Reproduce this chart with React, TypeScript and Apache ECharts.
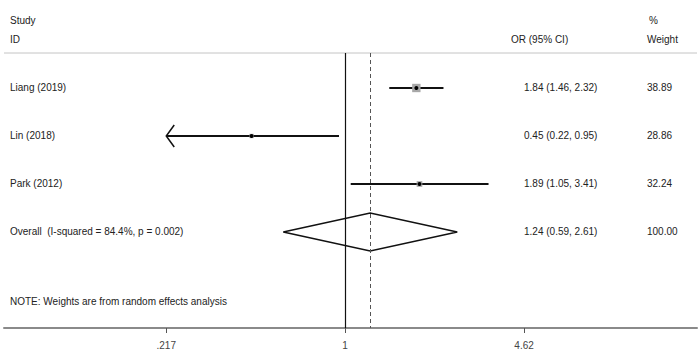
import React, { useEffect, useRef } from "react";
import * as echarts from "echarts";

// ---- data ----
const studies = ["Liang (2019)", "Lin (2018)", "Park (2012)"];
const orValues = [1.84, 0.45, 1.89];
const ciLower = [1.46, 0.216, 1.05];
const ciUpper = [2.32, 0.95, 3.41];
const weights = [38.89, 28.86, 32.24];

const overallLabel = "Overall  (I-squared = 84.4%, p = 0.002)";
const overallOR = [1.24];
const overallLower = [0.59];
const overallUpper = [2.61];
const overallWeight = [100.0];

const tickValues = [0.217, 1, 4.62];
const tickLabels = [".217", "1", "4.62"];

const noteText = "NOTE: Weights are from random effects analysis";

// ---- layout ----
const FONT = "10px 'Liberation Sans', Arial, sans-serif";
const TXT = "#222";
const X_MIN = -2.9145;
const X_MAX = 3.0085;
const Y_MIN = 0.271;
const Y_MAX = 6;
const COL_CI = 520;
const COL_W = 643;
const COL_LABEL = 6;

const fmt = (v: number) => v.toFixed(2);
const tickLn = tickValues.map((v) => Math.log(v));

function textEl(x: number, y: number, text: string, color = TXT) {
  return {
    type: "text",
    x,
    y,
    style: {
      text,
      font: FONT,
      fill: color,
      align: "left",
      verticalAlign: "middle",
      textAlign: "left",
      textVerticalAlign: "middle",
    },
  };
}

export default function App() {
  const ref = useRef<HTMLDivElement>(null);

  useEffect(() => {
    if (!ref.current) return;
    const chart = echarts.init(ref.current, undefined, { renderer: "svg" });

    const rows = studies.map((_, i) => i + 1);
    const overallRow = studies.length + 1;
    const lnMin = Math.log(tickValues[0]);

    const ciData = rows.map((r, i) => [
      Math.log(orValues[i]),
      Math.log(ciLower[i]),
      Math.log(ciUpper[i]),
      r,
      weights[i],
    ]);

    const textRows = [
      ...studies.map((s, i) => ({
        row: i + 1,
        label: s,
        ci: `${fmt(orValues[i])} (${fmt(ciLower[i])}, ${fmt(ciUpper[i])})`,
        w: fmt(weights[i]),
      })),
      {
        row: overallRow,
        label: overallLabel,
        ci: `${fmt(overallOR[0])} (${fmt(overallLower[0])}, ${fmt(overallUpper[0])})`,
        w: fmt(overallWeight[0]),
      },
    ];

    const option: any = {
      animation: false,
      grid: { left: 4, right: 3, top: 53, bottom: 35 },
      xAxis: [
        {
          type: "value",
          min: X_MIN,
          max: X_MAX,
          axisLine: { show: true, onZero: false, lineStyle: { color: "#8a8a8a", width: 2 } },
          axisTick: {
            show: true,
            customValues: tickLn,
            length: 5,
            lineStyle: { color: "#555", width: 1 },
          },
          axisLabel: {
            customValues: tickLn,
            formatter: (v: number) => {
              const i = tickLn.findIndex((t) => Math.abs(t - v) < 1e-6);
              return i >= 0 ? tickLabels[i] : "";
            },
            color: "#444",
            fontSize: 10,
            fontFamily: "'Liberation Sans', Arial, sans-serif",
            margin: 12,
          },
          splitLine: { show: false },
        },
      ],
      yAxis: {
        type: "value",
        inverse: true,
        min: Y_MIN,
        max: Y_MAX,
        show: false,
      },
      series: [
        {
          type: "line",
          data: [],
          markLine: {
            silent: true,
            symbol: "none",
            label: { show: false },
            data: [
              { xAxis: 0, lineStyle: { color: "#111", width: 1.2, type: "solid" } },
              {
                xAxis: Math.log(overallOR[0]),
                lineStyle: { color: "#555", width: 1, type: [4, 3] },
              },
            ],
          },
        },
        {
          type: "custom",
          data: ciData,
          renderItem: (params: any, api: any) => {
            const orLn = api.value(0);
            const loLn = api.value(1);
            const hiLn = api.value(2);
            const row = api.value(3);
            const w = api.value(4);
            const clipped = loLn < lnMin;
            const p0 = api.coord([clipped ? lnMin : loLn, row]);
            const p1 = api.coord([hiLn, row]);
            const pc = api.coord([orLn, row]);
            const s = 4 + (w - 28) * 0.4;
            const children: any[] = [
              {
                type: "line",
                shape: { x1: p0[0], y1: p0[1], x2: p1[0], y2: p1[1] },
                style: { stroke: "#111", lineWidth: 2 },
              },
              {
                type: "rect",
                shape: { x: pc[0] - s / 2, y: pc[1] - s / 2, width: s, height: s },
                style: { fill: "#a8a8a8", stroke: null },
              },
              {
                type: "circle",
                shape: { cx: pc[0], cy: pc[1], r: 2 },
                style: { fill: "#000" },
              },
            ];
            if (clipped) {
              children.push({
                type: "polyline",
                shape: {
                  points: [
                    [p0[0] + 8, p0[1] - 11],
                    [p0[0], p0[1]],
                    [p0[0] + 8, p0[1] + 11],
                  ],
                },
                style: { stroke: "#111", lineWidth: 1.5, fill: null },
              });
            }
            return { type: "group", children };
          },
        },
        {
          type: "custom",
          data: [[Math.log(overallOR[0]), Math.log(overallLower[0]), Math.log(overallUpper[0]), overallRow]],
          renderItem: (params: any, api: any) => {
            const row = api.value(3);
            const c = api.coord([api.value(0), row]);
            const l = api.coord([api.value(1), row]);
            const r = api.coord([api.value(2), row]);
            const h = 19;
            return {
              type: "polygon",
              shape: {
                points: [
                  [l[0], l[1]],
                  [c[0], c[1] - h],
                  [r[0], r[1]],
                  [c[0], c[1] + h],
                ],
              },
              style: { fill: "#fff", stroke: "#111", lineWidth: 1.5 },
            };
          },
          z: 3,
        },
        {
          type: "custom",
          data: textRows.map((t) => [0, t.row]),
          renderItem: (params: any, api: any) => {
            const t = textRows[params.dataIndex];
            const y = api.coord([0, api.value(1)])[1];
            const x0 = params.coordSys.x;
            return {
              type: "group",
              children: [
                textEl(x0 + COL_LABEL, y, t.label),
                textEl(x0 + COL_CI, y, t.ci),
                textEl(x0 + COL_W, y, t.w),
              ],
            };
          },
          z: 5,
        },
      ],
      graphic: [
        {
          type: "line",
          shape: { x1: 4, y1: 53, x2: 697, y2: 53 },
          style: { stroke: "#c4c4c4", lineWidth: 1 },
        },
        textEl(10, 20, "Study"),
        textEl(10, 39, "ID"),
        textEl(511, 39, "OR (95% CI)"),
        textEl(649, 20, "%"),
        textEl(647, 39, "Weight"),
        textEl(10, 301, noteText),
      ],
    };

    chart.setOption(option);
    return () => chart.dispose();
  }, []);

  return (
    <div
      ref={ref}
      style={{ position: "absolute", left: 0, top: 0, width: 700, height: 363 }}
    />
  );
}
